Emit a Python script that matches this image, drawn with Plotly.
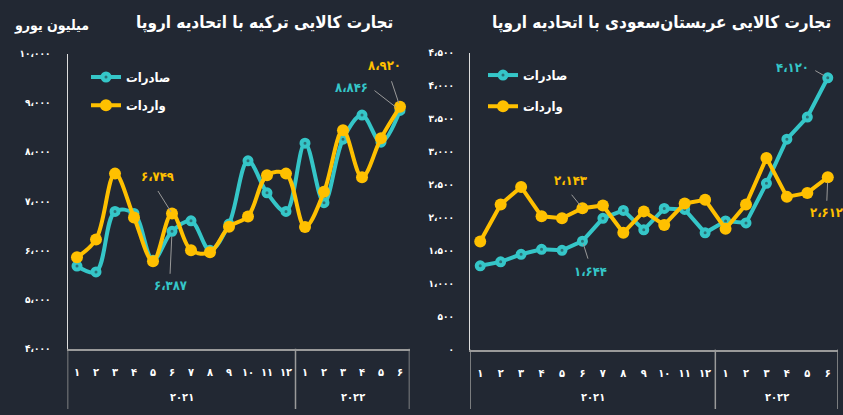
import plotly.graph_objects as go

W, H = 843, 415
BG = "#222833"
TEAL = "#35c6c8"
TEAL_DOT = "#2a6e74"
YEL = "#ffc000"
GRID = "#9a9a9a"
FONT = "DejaVu Sans Condensed, DejaVu Sans"

months_2021 = list(range(1, 13))
months_2022 = list(range(1, 7))
years = ["2021", "2022"]
categories = [f"2021-{m}" for m in months_2021] + [f"2022-{m}" for m in months_2022]
month_labels = months_2021 + months_2022

# Turkey - EU (million EUR)
tr_exports = [5680, 5560, 6790, 6750, 5800, 6387, 6600, 6000, 6535, 7820, 7170, 6790,
              8180, 6970, 8260, 8750, 8200, 8846]
tr_imports = [5860, 6220, 7560, 6670, 5780, 6749, 6000, 5960, 6480, 6690, 7525, 7560,
              6475, 7190, 8440, 7485, 8280, 8920]
# Saudi Arabia - EU (million EUR)
sa_exports = [1270, 1330, 1445, 1520, 1505, 1644, 1990, 2110, 1815, 2140, 2125, 1770,
              1950, 1920, 2520, 3190, 3525, 4120]
sa_imports = [1640, 2200, 2465, 2020, 1990, 2143, 2185, 1770, 2095, 1890, 2215, 2270,
              1830, 2200, 2905, 2315, 2375, 2612]

tr_ticks = [4000, 5000, 6000, 7000, 8000, 9000, 10000]
sa_ticks = [0, 500, 1000, 1500, 2000, 2500, 3000, 3500, 4000, 4500]

title_tr = "تجارت کالایی ترکیه با اتحادیه اروپا"
title_sa = "تجارت کالایی عربستان‌سعودی با اتحادیه اروپا"
unit_label = "میلیون یورو"
name_exp = "صادرات"
name_imp = "واردات"

FA = str.maketrans("0123456789", "۰۱۲۳۴۵۶۷۸۹")


def fa_num(v):
    s = f"{v:,}".replace(",", "،")
    return s.translate(FA)


fig = go.Figure()


def py(p):
    return 1 - p / H


L_dom = [67.5 / W, 409.5 / W]
R_dom = [470 / W, 838 / W]

panels = [
    ("x", "y", tr_exports, tr_imports, "spline", ("legend", "legend2")),
    ("x2", "y2", sa_exports, sa_imports, "linear", ("legend3", "legend4")),
]
for xa, ya, ex, im, shape, lg in panels:
    fig.add_trace(go.Scatter(
        x=categories, y=ex, xaxis=xa, yaxis=ya, name=name_exp, mode="lines+markers",
        line=dict(color=TEAL, width=4, shape=shape, smoothing=1.0),
        marker=dict(color=TEAL_DOT, size=7, line=dict(color=TEAL, width=4)),
        legend=lg[0], hoverinfo="skip"))
    fig.add_trace(go.Scatter(
        x=categories, y=im, xaxis=xa, yaxis=ya, name=name_imp, mode="lines+markers",
        line=dict(color=YEL, width=4, shape=shape, smoothing=1.0),
        marker=dict(color=YEL, size=12),
        legend=lg[1], hoverinfo="skip"))

tickfont = dict(family=FONT, size=10, color="white", weight="bold")
xfont = dict(family=FONT, size=11, color="white", weight="bold")

common_x = dict(type="category", categoryorder="array", categoryarray=categories,
                tickvals=categories, ticktext=[str(m).translate(FA) for m in month_labels],
                tickfont=xfont, showgrid=False, zeroline=False, showline=True,
                linecolor=GRID, linewidth=2, ticks="", ticklabelstandoff=12,
                range=[-0.5, 17.5], fixedrange=True)

fig.update_layout(
    width=W, height=H, margin=dict(l=0, r=0, t=0, b=0),
    paper_bgcolor=BG, plot_bgcolor=BG, showlegend=True,
    xaxis=dict(domain=L_dom, anchor="y", **common_x),
    xaxis2=dict(domain=R_dom, anchor="y2", **common_x),
    yaxis=dict(domain=[py(353), py(50)], range=[4000, 10000], tickvals=tr_ticks,
               ticktext=[fa_num(v) for v in tr_ticks], tickfont=tickfont,
               showgrid=False, zeroline=False, showline=True, linecolor="#dddddd",
               linewidth=1, ticks="", ticklabelstandoff=14, anchor="x"),
    yaxis2=dict(domain=[py(354), py(49)], range=[0, 4500], tickvals=sa_ticks,
                ticktext=[fa_num(v) for v in sa_ticks], tickfont=tickfont,
                showgrid=False, zeroline=False, showline=True, linecolor="#dddddd",
                linewidth=1, ticks="", ticklabelstandoff=13, anchor="x2"),
)

legfont = dict(family=FONT, size=13, color="white", weight="bold")
for key, xp, yp in [("legend", 86, 74), ("legend2", 86, 103), ("legend3", 483, 72), ("legend4", 483, 104)]:
    fig.update_layout({key: dict(x=xp / W, y=py(yp), xanchor="left", yanchor="middle",
                                 bgcolor="rgba(0,0,0,0)", font=legfont, itemwidth=30,
                                 borderwidth=0)})

shapes = []
for xa, n_y in [("x", 353), ("x2", 354)]:
    for xv in [-0.5, 11.5, 17.5]:
        shapes.append(dict(type="line", xref=xa, yref="paper", x0=xv, x1=xv,
                           y0=py(n_y), y1=0, line=dict(color=GRID, width=1.5)))
fig.update_layout(shapes=shapes)

ann = []
yearfont = dict(family=FONT, size=11, color="white", weight="bold")
for xa in ["x", "x2"]:
    for k, xc in [(0, 5.5), (1, 14.5)]:
        ann.append(dict(xref=xa, yref="paper", x=xc, y=py(403), text=years[k].translate(FA),
                        showarrow=False, font=yearfont, xanchor="center", yanchor="middle"))

tfont = dict(family=FONT, size=17, color="white", weight="bold")
ann.append(dict(xref="paper", yref="paper", x=264 / W, y=py(18), text=title_tr, showarrow=False,
                font=tfont, xanchor="center", yanchor="middle"))
ann.append(dict(xref="paper", yref="paper", x=833 / W, y=py(18), xanchor="right", yanchor="middle",
                text=title_sa, showarrow=False, font=tfont))
ann.append(dict(xref="paper", yref="paper", x=51 / W, y=py(21), text=unit_label, showarrow=False,
                xanchor="center", yanchor="middle",
                font=dict(family=FONT, size=14, color="white", weight="bold")))


def lbl(xa, ya, i, series, color, tx, ty, ax, ay, so):
    # value text, offset from the point
    ann.append(dict(xref=xa, yref=ya, x=categories[i], y=series[i], text=fa_num(series[i]),
                    showarrow=False, xshift=tx, yshift=ty, xanchor="center", yanchor="middle",
                    font=dict(family=FONT, size=13, color=color, weight="bold")))
    # leader line
    ann.append(dict(xref=xa, yref=ya, x=categories[i], y=series[i], text="",
                    showarrow=True, arrowhead=0, arrowwidth=1, arrowcolor="#9a9a9a",
                    ax=ax, ay=ay, standoff=so))


lbl("x", "y", 17, tr_imports, YEL, -16, 41, -9, -27, 4)
lbl("x", "y", 17, tr_exports, TEAL, -49, 23, -27, -21, 5)
lbl("x", "y", 5, tr_imports, YEL, -15, 37, -15, -24, 2)
lbl("x", "y", 5, tr_exports, TEAL, -2, -54, -2, 44, 5)
lbl("x2", "y2", 17, sa_exports, TEAL, -35, 10, -14, -8, 4)
lbl("x2", "y2", 5, sa_imports, YEL, -12, 28, -12, -15, 3)
lbl("x2", "y2", 5, sa_exports, TEAL, 8, -30, 6, 19, 3)
lbl("x2", "y2", 17, sa_imports, YEL, -1, -35, -1, 25, 5)

fig.update_layout(annotations=ann)
fig.write_html("out.html")
